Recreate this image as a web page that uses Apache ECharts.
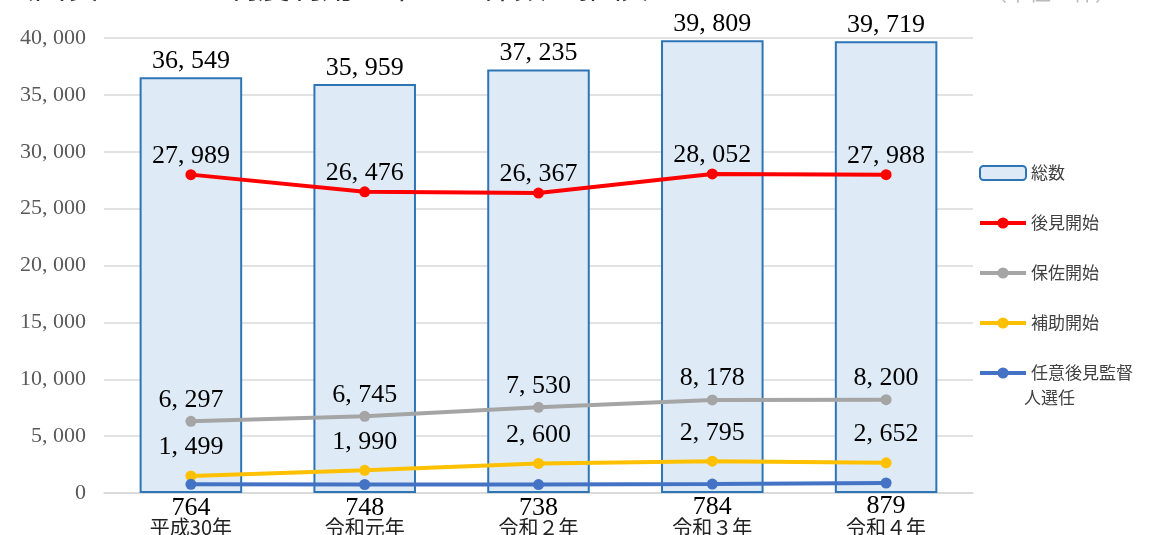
<!DOCTYPE html>
<html>
<head>
<meta charset="utf-8">
<script src="https://cdn.jsdelivr.net/npm/echarts@6/dist/echarts.min.js"></script>
<style>
  html, body { margin: 0; padding: 0; background: #fff; }
  #chart { width: 1169px; height: 535px; }
</style>
</head>
<body>
<div id="chart"></div>
<script>
// 申立て件数（年別）
const categories = ['平成30年', '令和元年', '令和２年', '令和３年', '令和４年'];
const totalCount = [36549, 35959, 37235, 39809, 39719];
const guardianship = [27989, 26476, 26367, 28052, 27988];
const curatorship = [6297, 6745, 7530, 8178, 8200];
const assistance = [1499, 1990, 2600, 2795, 2652];
const voluntarySupervisor = [764, 748, 738, 784, 879];
const seriesNames = ['総数', '後見開始', '保佐開始', '補助開始', '任意後見監督人選任'];

const serif = '"Liberation Serif", "DejaVu Serif", serif';
const jp = '"Noto Sans CJK JP", "Noto Sans", sans-serif';

// 3桁区切り（全角風のカンマ間隔）
function fmt(v) {
  return String(v).replace(/\B(?=(\d{3})+(?!\d))/g, ', ');
}

const labelStyle = {
  show: true,
  fontFamily: serif,
  fontSize: 26,
  color: '#000',
  formatter: p => fmt(p.value)
};

function lineSeries(name, data, color, pos, dist) {
  return {
    name: name,
    type: 'line',
    data: data,
    symbol: 'circle',
    symbolSize: 11,
    lineStyle: { color: color, width: 4 },
    itemStyle: { color: color },
    label: Object.assign({}, labelStyle, { position: pos, distance: dist }),
    z: 3
  };
}

const legendTextStyle = { fontFamily: jp, fontSize: 17, color: '#404040' };

const chart = echarts.init(document.getElementById('chart'));
chart.setOption({
  animation: false,
  grid: { left: 104, right: 196, top: 38, bottom: 42, outerBoundsMode: 'none', containLabel: false },
  graphic: [
    {
      type: 'text', left: 2, top: -30,
      style: { text: '（図表１－２　制度利用の申立て件数の推移）', font: '32px ' + jp, fill: '#333' }
    },
    {
      type: 'text', left: 985, top: -19,
      style: { text: '（単位：件）', font: '22px ' + jp, fill: '#bbb' }
    },
    {
      // 凡例「任意後見監督人選任」の2行目
      type: 'text', left: 1024, top: 389,
      style: { text: '人選任', font: '17px ' + jp, fill: '#404040' }
    }
  ],
  legend: {
    orient: 'vertical',
    left: 973,
    top: 156,
    itemWidth: 46,
    itemHeight: 14,
    itemGap: 26,
    lineStyle: { width: 4 },
    textStyle: Object.assign({ lineHeight: 24 }, legendTextStyle),
    formatter: n => n === '任意後見監督人選任' ? '任意後見監督' : n,
    data: seriesNames
  },
  xAxis: {
    type: 'category',
    data: categories,
    axisLine: { lineStyle: { color: '#d9d9d9', width: 1.5 } },
    axisTick: { show: false },
    axisLabel: { fontFamily: jp, fontSize: 20, color: '#222', margin: 24 }
  },
  yAxis: {
    type: 'value',
    min: 0,
    max: 40000,
    interval: 5000,
    axisLine: { show: false },
    axisTick: { show: false },
    axisLabel: {
      fontFamily: serif, fontSize: 22, color: '#595959', margin: 18,
      formatter: v => fmt(v)
    },
    splitLine: { lineStyle: { color: '#d9d9d9', width: 1.5 } }
  },
  series: [
    {
      name: seriesNames[0],
      type: 'bar',
      data: totalCount,
      barWidth: '59%',
      itemStyle: { color: '#DEEBF7', borderColor: '#2E75B6', borderWidth: 2 },
      label: Object.assign({}, labelStyle, { position: 'top', distance: 3 }),
      z: 2
    },
    lineSeries(seriesNames[1], guardianship, '#FF0000', 'top', 0),
    lineSeries(seriesNames[2], curatorship, '#A5A5A5', 'top', 3),
    lineSeries(seriesNames[3], assistance, '#FFC000', 'top', 10),
    lineSeries(seriesNames[4], voluntarySupervisor, '#4472C4', 'bottom', 5)
  ]
});
</script>
</body>
</html>
